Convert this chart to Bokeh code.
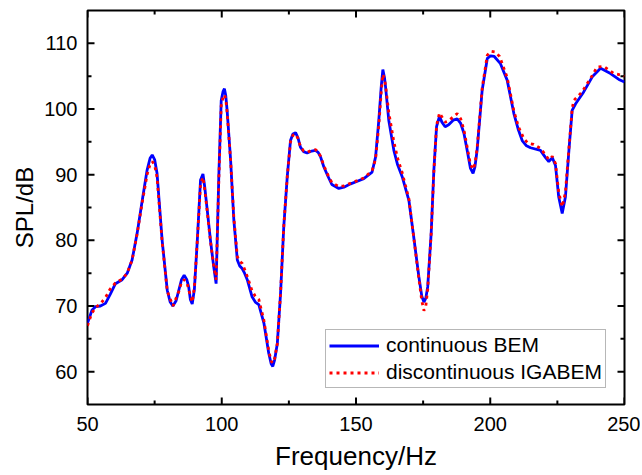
from bokeh.plotting import figure
from bokeh.models import SingleIntervalTicker, Range1d, Legend, LegendItem
from bokeh.embed import file_html
from bokeh.resources import INLINE

freq_bem = [50, 51.7, 53, 54.8, 56.7, 58.6, 60.4, 62.9, 64.8, 66.6, 68.5, 70.4, 72.2, 73.3, 74.1, 75, 75.9,
            77.8, 79.7, 80.8, 81.8, 83, 84.0, 85, 86.0, 87, 87.7, 88.3, 89.0, 89.8, 90.9, 92.1, 93.0, 93.7,
            94.6, 95.8, 97.0, 97.9, 98.9, 99.8, 100.5, 101.0, 101.5, 102.0, 103.3, 104.5, 105.8, 106.7,
            107.6, 108.5, 109.5, 111.3, 112.5, 113.8, 115.7, 117.5, 118.4, 119.0, 119.7, 120.7, 121.9,
            123.1, 124.4, 125.6, 126.5, 127.5, 128.4, 129.3, 130.5, 131.8, 133.5, 134.9, 135.9, 136.8,
            138, 139.5, 141, 143.6, 145.5, 148.0, 150.5, 152.9, 156.0, 157.3, 158.5, 159.4, 160.0, 160.6,
            161.0, 162.2, 164.1, 165.5, 167.2, 169.7, 171.5, 173.4, 174.5, 175.3, 176.0, 176.7, 178.0,
            179.0, 180.0, 181.1, 182.0, 183.2, 184.5, 186.2, 187.7, 189, 190.2, 191.5, 192.6, 193.6,
            194.3, 195.1, 197.0, 198.9, 200.1, 201.5, 203.8, 206.3, 208.8, 210.5, 211.9, 213.5, 215.0,
            218.7, 220.6, 221.8, 222.5, 223.1, 224.3, 225.5, 226.8, 228.0, 229.3, 230.5, 231.8, 234.8,
            238.0, 241.1, 244.8, 247.9, 250.0]
spl_bem = [67.4, 69.4, 69.9, 70.0, 70.4, 71.9, 73.4, 74.0, 75.0, 77.0, 81.1, 86.1, 90.7, 92.5, 93.0, 92.3, 90.2,
           80.0, 72.4, 70.6, 70.0, 70.8, 72.4, 74.0, 74.7, 74.0, 72.9, 71.0, 70.3, 72.5, 80.0, 89.2, 90.1, 88.0,
           84.6, 80.0, 76.0, 73.4, 89.7, 101.3, 102.7, 103.1, 102.0, 99.8, 92.2, 83.1, 77.0, 76.1,
           75.7, 75.0, 74.0, 71.4, 70.6, 70.2, 67.4, 62.8, 61.2, 60.8, 61.8, 64.3, 71.9,
           82.1, 89.7, 95.2, 96.2, 96.4, 95.6, 94.2, 93.5, 93.3, 93.6, 93.7, 93.4, 92.7,
           91.2, 89.8, 88.5, 87.9, 88.1, 88.6, 89.0, 89.4, 90.4, 92.7, 98.3, 103.4, 106.0, 104.8,
           103.4, 98.3, 93.7, 91.5, 89.7, 86.1, 80.5, 74.5, 71.5, 70.6, 71.2, 72.9, 81.1,
           90.7, 97.3, 98.9, 98.0, 97.3, 97.6, 98.3, 98.5, 97.8, 96.3, 93.5, 91.0, 90.2,
           91.2, 93.7, 102.9, 107.7, 108.1, 108.0, 106.9, 104.4, 99.3, 96.8, 95.2, 94.4, 94.1,
           93.7, 92.6, 92.0, 92.3, 92.6, 91.4, 86.6, 84.1, 86.6, 93.7, 99.8, 100.8, 102.6,
           104.9, 106.2, 105.4, 104.5, 104.1]

freq_iga = [50, 51.5, 53, 55, 57, 58.3, 60.4, 62.9, 64.8, 66.6, 68.5, 70.4, 72.2, 73.3, 74.1, 75, 75.9,
            77.8, 79.7, 81.8, 84.0, 85, 86.0, 87, 87.7, 89.0, 89.8, 90.9, 92.1, 93.0, 93.7,
            94.6, 95.8, 97.0, 97.9, 98.9, 99.8, 100.5, 101.0, 101.5, 102.0, 103.3, 104.5, 105.8, 106.7,
            107.6, 108.5, 109.5, 111.3, 112.5, 113.8, 115.7, 117.5, 118.4, 119.0, 119.7, 120.7, 121.9,
            123.1, 124.4, 125.6, 126.5, 127.5, 128.4, 129.3, 130.5, 131.8, 133.5, 134.9, 135.9, 136.8,
            138, 139.5, 141, 143.6, 145.5, 148, 150.5, 152.9, 156.0, 157.3, 158.5, 159.4, 160.0, 160.6,
            161.0, 162.2, 164.1, 165.5, 167.2, 169.7, 171.5, 173.4, 174.5, 175.3, 176.0, 176.7, 178.0,
            179.0, 180.0, 181.1, 182.0, 183.2, 184.5, 186.2, 187.7, 189, 190.2, 191.5, 192.6, 193.6,
            194.3, 195.1, 197.0, 198.9, 200.3, 201.8, 203.5, 206.3, 208.8, 210.5, 212.5, 214, 216.2,
            218.7, 220.6, 221.8, 222.5, 223.1, 224.3, 225.5, 226.8, 228.0, 229.3, 230.5, 231.1, 234.2,
            238.0, 239.8, 242.3, 246.0, 249.5, 250]
spl_iga = [67.0, 68.8, 69.8, 70.4, 71.5, 72.5, 73.5, 74.1, 75.0, 77.0, 81.0, 85.8, 90.0, 91.6, 92.0, 91.5, 89.6,
           79.8, 72.3, 70.0, 72.2, 73.6, 74.0, 73.6, 72.5, 70.6, 72.8, 80.0, 88.6, 89.6, 87.6,
           84.4, 79.8, 76.2, 74.0, 89.0, 100.5, 101.8, 102.2, 101.5, 99.5, 92.2, 83.5, 77.5, 76.8,
           76.5, 75.6, 74.5, 72.3, 71.5, 71.0, 67.8, 63.2, 61.6, 61.3, 62.0, 64.3, 71.9,
           82.1, 89.7, 95.0, 96.0, 96.2, 95.5, 94.3, 93.6, 93.4, 93.7, 93.8, 93.5, 92.8,
           91.4, 90.0, 88.8, 88.2, 88.3, 88.7, 89.1, 89.5, 90.6, 92.4, 97.5, 102.6, 105.3, 104.6,
           103.6, 99.5, 95.0, 92.5, 90.3, 86.3, 80.5, 74.2, 70.8, 69.3, 70.0, 72.5, 81.0,
           90.5, 97.5, 99.4, 98.8, 98.0, 98.2, 98.8, 99.3, 98.5, 96.8, 94.0, 91.6, 90.8,
           91.6, 94.0, 103.2, 108.2, 108.8, 108.7, 108.0, 104.8, 99.7, 97.3, 95.5, 94.8, 94.6,
           94.0, 93.0, 92.3, 92.5, 92.8, 91.7, 87.3, 85.1, 87.3, 94.0, 100.0, 101.3, 102.6,
           105.1, 106.4, 106.5, 105.4, 105.1, 105.0]

series_labels = ["continuous BEM", "discontinuous IGABEM"]
x_label = "Frequency/Hz"
y_label = "SPL/dB"

x_start, x_end = 50, 250
y_start, y_end = 55, 115
x_major = [50, 100, 150, 200, 250]
x_minor = [75, 125, 175, 225]
y_major = [60, 70, 80, 90, 100, 110]
y_minor = [65, 75, 85, 95, 105]

FONT = "Liberation Sans"
W, H = 640, 475
BL, BR, BT, BB = 87, 16, 10, 71

p = figure(width=W, height=H, output_backend="svg", toolbar_location=None,
           x_range=Range1d(x_start, x_end), y_range=Range1d(y_start, y_end),
           min_border_left=BL, min_border_right=BR, min_border_top=BT, min_border_bottom=BB)
p.xgrid.visible = False
p.ygrid.visible = False
p.outline_line_color = "black"
p.outline_line_width = 2
p.outline_line_alpha = 1
p.background_fill_color = "white"
p.border_fill_color = "white"


def style_axis(ax):
    ax.axis_line_color = None
    ax.major_tick_line_color = None
    ax.minor_tick_line_color = None
    ax.major_tick_in = 0
    ax.major_tick_out = 0
    ax.minor_tick_in = 0
    ax.minor_tick_out = 0
    ax.major_label_text_font = FONT
    ax.axis_label_text_font = FONT
    ax.axis_label_text_font_style = "normal"
    ax.axis_label_text_color = "black"
    ax.major_label_text_color = "black"
    ax.major_label_text_font_size = "20px"


bottom = p.xaxis[0]
bottom.ticker = SingleIntervalTicker(interval=50, num_minor_ticks=2)
bottom.axis_label = x_label
style_axis(bottom)
bottom.axis_label_text_font_size = "26px"
bottom.major_label_standoff = 12
bottom.axis_label_standoff = 7

left = p.yaxis[0]
left.ticker = SingleIntervalTicker(interval=10, num_minor_ticks=2)
left.axis_label = y_label
style_axis(left)
left.axis_label_text_font_size = "24px"
left.major_label_standoff = 10
left.axis_label_standoff = 3

# inward tick marks on all four sides as plain segments (lengths: pixels -> data units)
frame_w = W - BL - BR
frame_h = H - BT - BB
dx_major = 7 * (x_end - x_start) / frame_w
dx_minor = 4 * (x_end - x_start) / frame_w
dy_major = 7 * (y_end - y_start) / frame_h
dy_minor = 4 * (y_end - y_start) / frame_h

tick_kw = dict(line_color="black", line_width=2)
for ticks, d in ((x_major, dy_major), (x_minor, dy_minor)):
    n = len(ticks)
    p.segment(x0=ticks, y0=[y_start] * n, x1=ticks, y1=[y_start + d] * n, **tick_kw)
    p.segment(x0=ticks, y0=[y_end] * n, x1=ticks, y1=[y_end - d] * n, **tick_kw)
for ticks, d in ((y_major, dx_major), (y_minor, dx_minor)):
    n = len(ticks)
    p.segment(x0=[x_start] * n, y0=ticks, x1=[x_start + d] * n, y1=ticks, **tick_kw)
    p.segment(x0=[x_end] * n, y0=ticks, x1=[x_end - d] * n, y1=ticks, **tick_kw)

r1 = p.line(freq_bem, spl_bem, line_color="#0000FF", line_width=2.8)
r2 = p.line(freq_iga, spl_iga, line_color="#FF0000", line_width=2.8, line_dash="3 4")

legend = Legend(items=[LegendItem(label=series_labels[0], renderers=[r1]),
                       LegendItem(label=series_labels[1], renderers=[r2])],
                location=(238, 16), orientation="vertical")
legend.label_text_font = FONT
legend.label_text_font_size = "21px"
legend.label_text_color = "black"
legend.glyph_width = 50
legend.glyph_height = 23
legend.label_height = 23
legend.label_standoff = 7
legend.spacing = 3
legend.padding = 3
legend.margin = 0
legend.border_line_color = "#707070"
legend.border_line_width = 1.2
legend.background_fill_color = "white"
legend.background_fill_alpha = 1
p.add_layout(legend, "center")

open("out.html", "w").write(file_html(p, INLINE))
